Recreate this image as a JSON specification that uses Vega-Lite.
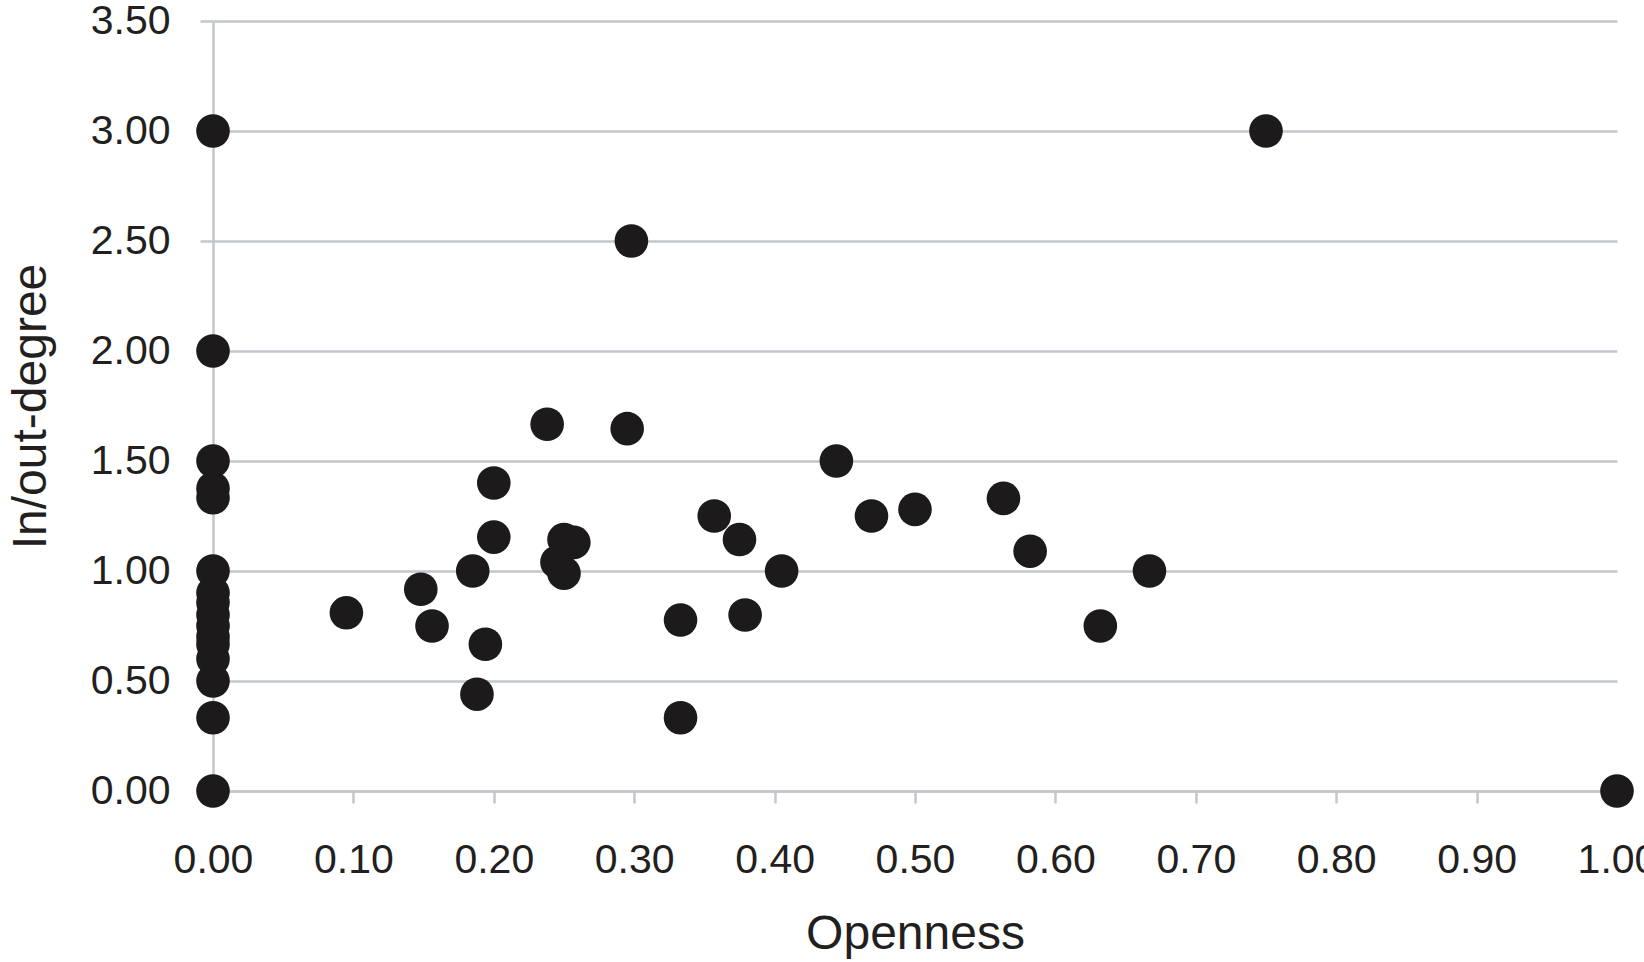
{
  "$schema": "https://vega.github.io/schema/vega-lite/v6.json",
  "width": 1404,
  "height": 770,
  "autosize": {"type": "none"},
  "padding": {"left": 213, "top": 21, "right": 27, "bottom": 171},
  "background": "white",
  "config": {
    "view": {"stroke": null},
    "font": "Liberation Sans"
  },
  "data": {
    "values": [
      {"openness": 0.0, "degree": 3.0},
      {"openness": 0.0, "degree": 2.0},
      {"openness": 0.0, "degree": 1.5},
      {"openness": 0.0, "degree": 1.375},
      {"openness": 0.0, "degree": 1.333},
      {"openness": 0.0, "degree": 1.0},
      {"openness": 0.0, "degree": 0.9},
      {"openness": 0.0, "degree": 0.857},
      {"openness": 0.0, "degree": 0.8},
      {"openness": 0.0, "degree": 0.75},
      {"openness": 0.0, "degree": 0.7},
      {"openness": 0.0, "degree": 0.667},
      {"openness": 0.0, "degree": 0.6},
      {"openness": 0.0, "degree": 0.5},
      {"openness": 0.0, "degree": 0.333},
      {"openness": 0.0, "degree": 0.0},
      {"openness": 0.095, "degree": 0.81},
      {"openness": 0.148, "degree": 0.917},
      {"openness": 0.156, "degree": 0.75},
      {"openness": 0.185, "degree": 1.0},
      {"openness": 0.188, "degree": 0.44},
      {"openness": 0.194, "degree": 0.667},
      {"openness": 0.2, "degree": 1.4},
      {"openness": 0.2, "degree": 1.154},
      {"openness": 0.238, "degree": 1.667},
      {"openness": 0.245, "degree": 1.04},
      {"openness": 0.25, "degree": 0.99},
      {"openness": 0.25, "degree": 1.143},
      {"openness": 0.257, "degree": 1.13},
      {"openness": 0.295, "degree": 1.647},
      {"openness": 0.298, "degree": 2.5},
      {"openness": 0.333, "degree": 0.777},
      {"openness": 0.333, "degree": 0.333},
      {"openness": 0.357, "degree": 1.25},
      {"openness": 0.375, "degree": 1.143},
      {"openness": 0.379, "degree": 0.8},
      {"openness": 0.405, "degree": 1.0},
      {"openness": 0.444, "degree": 1.5},
      {"openness": 0.469, "degree": 1.25},
      {"openness": 0.5, "degree": 1.28},
      {"openness": 0.563, "degree": 1.33},
      {"openness": 0.582, "degree": 1.09},
      {"openness": 0.632, "degree": 0.75},
      {"openness": 0.667, "degree": 1.0},
      {"openness": 0.75, "degree": 3.0},
      {"openness": 1.0, "degree": 0.0}
    ]
  },
  "mark": {"type": "circle", "size": 1130, "color": "#1c1a1b", "opacity": 1},
  "encoding": {
    "x": {
      "field": "openness",
      "type": "quantitative",
      "scale": {"domain": [0, 1], "nice": false, "zero": true},
      "axis": {
        "title": "Openness",
        "values": [0, 0.1, 0.2, 0.3, 0.4, 0.5, 0.6, 0.7, 0.8, 0.9, 1.0],
        "format": ".2f",
        "grid": false,
        "domainColor": "#c3c7cb",
        "domainWidth": 2.5,
        "tickColor": "#c3c7cb",
        "tickWidth": 2.5,
        "tickSize": 12,
        "labelFontSize": 41,
        "labelColor": "#231f20",
        "labelBaseline": "alphabetic",
        "labelPadding": 69,
        "labelFlush": false,
        "labelOverlap": false,
        "titleFontSize": 48,
        "titleFontWeight": "normal",
        "titleColor": "#231f20",
        "titleBaseline": "alphabetic",
        "titleY": 157,
        "titleX": 702
      }
    },
    "y": {
      "field": "degree",
      "type": "quantitative",
      "scale": {"domain": [0, 3.5], "nice": false},
      "axis": {
        "title": "In/out-degree",
        "values": [0, 0.5, 1.0, 1.5, 2.0, 2.5, 3.0, 3.5],
        "format": ".2f",
        "grid": true,
        "gridColor": "#c3c7cb",
        "gridWidth": 2.5,
        "domainColor": "#c3c7cb",
        "domainWidth": 2.5,
        "tickColor": "#c3c7cb",
        "tickWidth": 2.5,
        "tickSize": 13,
        "labelFontSize": 41,
        "labelColor": "#231f20",
        "labelPadding": 30,
        "labelFlush": false,
        "labelOverlap": false,
        "titleFontSize": 48,
        "titleFontWeight": "normal",
        "titleColor": "#231f20",
        "titleBaseline": "alphabetic",
        "titleAngle": -90,
        "titleX": -168,
        "titleY": 385
      }
    }
  }
}
